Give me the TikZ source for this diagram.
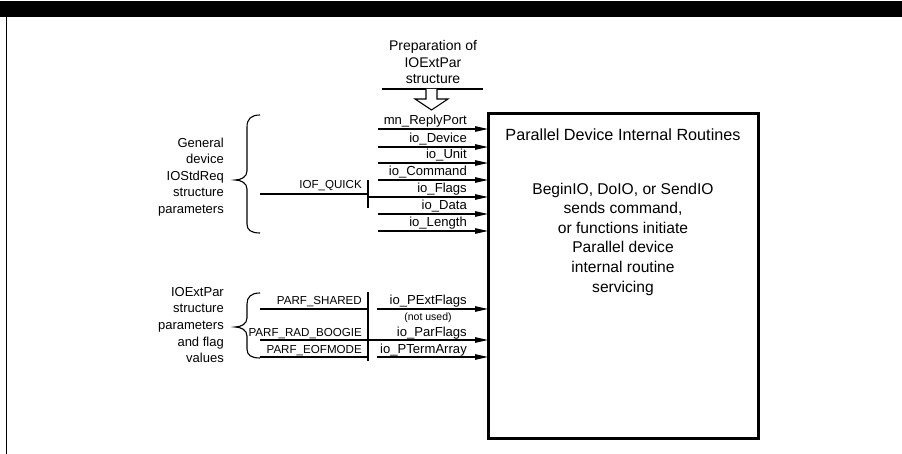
\documentclass[tikz,border=0pt]{standalone}
\usepackage{fontspec}
\setmainfont{Liberation Sans}
\usetikzlibrary{arrows.meta}
\begin{document}
\begin{tikzpicture}[x=1pt,y=-1pt,
  ln/.style={line width=1.1pt},
  conn/.style={line width=1.1pt,-{Triangle[length=13pt,width=5.5pt]}},
  lbl/.style={anchor=base east,inner sep=0pt,font=\fontsize{13.1}{14}\selectfont},
  caplbl/.style={anchor=base east,inner sep=0pt,font=\fontsize{11.6}{14}\selectfont},
  side/.style={anchor=east,align=right,inner sep=0pt,font=\fontsize{13}{16.6}\selectfont},
  brace/.style={line width=1.1pt},
  mainbox/.style={draw,line width=3pt,minimum width=270pt,minimum height=324pt,inner sep=0pt,outer sep=0pt}]
\useasboundingbox (0,0) rectangle (902,454);
% frame
\fill (0,1) rectangle (902,17);
\draw[line width=1pt] (6,17) -- (6,454);
% main box
\node[mainbox] (box) at (623,276) {};
\node[font=\fontsize{16.2}{19}\selectfont] (title) at (623,135) {Parallel Device Internal Routines};
\node[align=center,font=\fontsize{15.6}{19.6}\selectfont] (body) at (623,239)
  {BeginIO, DoIO, or SendIO\\sends command,\\or functions initiate\\Parallel device\\internal routine\\servicing};
% top preparation
\node[align=center,font=\fontsize{14}{16.5}\selectfont] (prep) at (433,62) {Preparation of\\IOExtPar\\structure};
\coordinate (pl) at (382,89);
\coordinate (pr) at (483,89);
\draw[ln] (pl) -- (pr);
\draw[ln,fill=white] (426,89) -- (426,99) -- (415,99) -- (431.5,110) -- (448,99) -- (437,99) -- (437,89);
% upper arrows
\foreach \yy/\t/\n in {129/mn\_ReplyPort/a,147/io\_Device/b,163/io\_Unit/c,180/io\_Command/d,214/io\_Data/f,231/io\_Length/g} {
  \coordinate (s\n) at (378,\yy);
  \draw[conn] (s\n) -- (s\n -| box.west);
  \node[lbl] (l\n) at (467,\yy-4) {\t};
}
\coordinate (se) at (368,197);
\draw[conn] (se) -- (se -| box.west);
\node[lbl] (le) at (467,193) {io\_Flags};
% IOF_QUICK
\coordinate (q0) at (260,194);
\coordinate (q1) at (368,194);
\draw[ln] (q0) -- (q1);
\coordinate (qt) at (368,180);
\coordinate (qb) at (368,208);
\draw[ln] (qt) -- (qb);
\node[caplbl] (iof) at (362,189) {IOF\_QUICK};
% upper side text and brace
\node[side] (gen) at (224,177) {General\\device\\IOStdReq\\structure\\parameters};
\draw[brace] (260,115) .. controls (251,115) and (247,119) .. (247,127) -- (247,171)
  .. controls (247,177) and (241,180) .. (235,180)
  .. controls (241,180) and (247,183) .. (247,189) -- (247,224)
  .. controls (247,230) and (251,233) .. (260,233);
% lower side text and brace
\node[side] (ext) at (224,325) {IOExtPar\\structure\\parameters\\and flag\\values};
\draw[brace] (260,293) .. controls (251,293) and (247,297) .. (247,304) -- (247,318)
  .. controls (247,324) and (241,327) .. (235,327)
  .. controls (241,327) and (247,330) .. (247,336) -- (247,349)
  .. controls (247,355) and (251,358) .. (260,358);
% lower section
\coordinate (sepT) at (368,292);
\coordinate (sepB) at (368,361);
\draw[ln] (sepT) -- (sepB);
\coordinate (p1a) at (260,309); \coordinate (p1b) at (368,309);
\draw[ln] (p1a) -- (p1b);
\coordinate (p1c) at (377,309);
\draw[conn] (p1c) -- (p1c -| box.west);
\coordinate (p2a) at (260,340);
\draw[conn] (p2a) -- (p2a -| box.west);
\coordinate (p3a) at (260,357); \coordinate (p3b) at (368,357);
\draw[ln] (p3a) -- (p3b);
\coordinate (p3c) at (377,357);
\draw[conn] (p3c) -- (p3c -| box.west);
\node[caplbl] (shared) at (362,305) {PARF\_SHARED};
\node[caplbl] (boogie) at (362,336) {PARF\_RAD\_BOOGIE};
\node[caplbl] (eof) at (362,353) {PARF\_EOFMODE};
\node[lbl] (pext) at (467,305) {io\_PExtFlags};
\node[font=\fontsize{10.5}{12}\selectfont,inner sep=0pt] (nu) at (428,318) {(not used)};
\node[lbl] (parf) at (467,336) {io\_ParFlags};
\node[lbl] (pterm) at (467,353) {io\_PTermArray};
\end{tikzpicture}
\end{document}
